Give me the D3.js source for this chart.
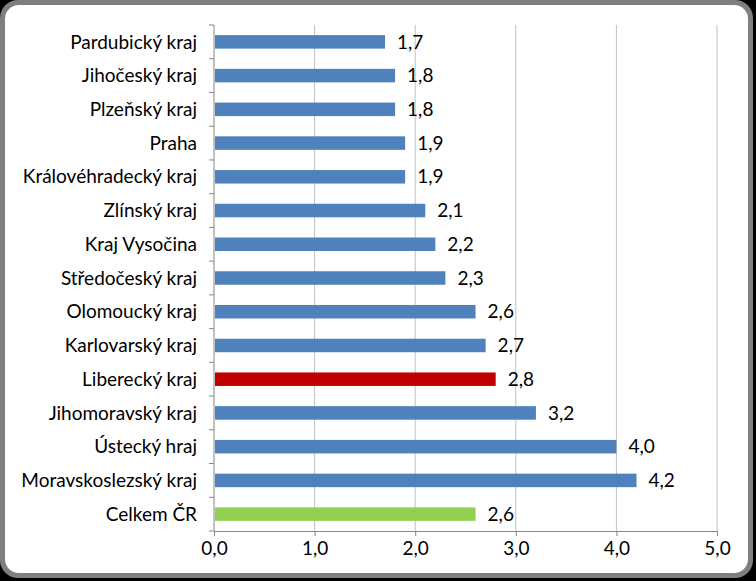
<!DOCTYPE html>
<html><head><meta charset="utf-8">
<script src="https://cdn.jsdelivr.net/npm/d3@7"></script>
<style>body{margin:0;background:#000;}svg{display:block;}</style>
</head><body>
<script>
const categories = ["Pardubický kraj","Jihočeský kraj","Plzeňský kraj","Praha","Královéhradecký kraj","Zlínský kraj","Kraj Vysočina","Středočeský kraj","Olomoucký kraj","Karlovarský kraj","Liberecký kraj","Jihomoravský kraj","Ústecký hraj","Moravskoslezský kraj","Celkem ČR"];
const values = [1.7,1.8,1.8,1.9,1.9,2.1,2.2,2.3,2.6,2.7,2.8,3.2,4.0,4.2,2.6];
const barColors = ["#4F81BD","#4F81BD","#4F81BD","#4F81BD","#4F81BD","#4F81BD","#4F81BD","#4F81BD","#4F81BD","#4F81BD","#C00000","#4F81BD","#4F81BD","#4F81BD","#92D050"];
const xTicks = [0,1,2,3,4,5];

const W=756,H=581;
const svg=d3.select("body").append("svg").attr("width",W).attr("height",H);
svg.append("rect").attr("width",W).attr("height",H).attr("fill","#000");
svg.append("rect").attr("x",0).attr("y",0).attr("width",W-3).attr("height",H-3).attr("rx",18).attr("fill","#7f7f7f");
svg.append("rect").attr("x",5).attr("y",5).attr("width",W-13).attr("height",H-13).attr("rx",14).attr("fill","#fff");

const m={l:214,r:717,t:25,b:531};
const x=d3.scaleLinear().domain([0,5]).range([m.l,m.r]);
const y=d3.scaleBand().domain(categories).range([m.t,m.b]).paddingInner(0.6).paddingOuter(0.3);
const fmt=v=>d3.format(".1f")(v).replace(".",",");
const font="Lato, 'Open Sans', sans-serif";
const fs=19;

svg.append("g").selectAll("line").data(xTicks.slice(1)).join("line")
  .attr("x1",d=>x(d)).attr("x2",d=>x(d)).attr("y1",m.t).attr("y2",m.b)
  .attr("stroke","#c0c0c0").attr("stroke-width",1);

const xa=svg.append("g").attr("transform",`translate(0,${m.b})`)
  .call(d3.axisBottom(x).tickValues(xTicks).tickFormat(fmt).tickSize(5).tickPadding(6));
xa.select(".domain").attr("stroke","#868686");
xa.selectAll(".tick line").attr("stroke","#868686");
xa.selectAll("text").attr("font-family",font).attr("font-size",fs).attr("fill","#000");

const step=(m.b-m.t)/categories.length;
const ya=svg.append("g");
ya.append("line").attr("x1",m.l).attr("x2",m.l).attr("y1",m.t).attr("y2",m.b).attr("stroke","#868686");
ya.selectAll("line.t").data(d3.range(categories.length+1)).join("line").attr("class","t")
  .attr("x1",m.l-5).attr("x2",m.l).attr("y1",i=>m.t+i*step).attr("y2",i=>m.t+i*step).attr("stroke","#868686");
ya.selectAll("text").data(categories).join("text")
  .attr("x",m.l-17).attr("y",d=>y(d)+y.bandwidth()/2).attr("dy","0.35em")
  .attr("text-anchor","end").attr("font-family",font).attr("font-size",fs).text(d=>d);

svg.append("g").selectAll("rect").data(categories).join("rect")
  .attr("x",x(0)+1).attr("y",d=>y(d)).attr("height",y.bandwidth())
  .attr("width",(d,i)=>x(values[i])-x(0)-1).attr("fill",(d,i)=>barColors[i]);

svg.append("g").selectAll("text").data(categories).join("text")
  .attr("x",(d,i)=>x(values[i])+12).attr("y",d=>y(d)+y.bandwidth()/2).attr("dy","0.35em")
  .attr("font-family",font).attr("font-size",fs).text((d,i)=>fmt(values[i]));
</script>
</body></html>
